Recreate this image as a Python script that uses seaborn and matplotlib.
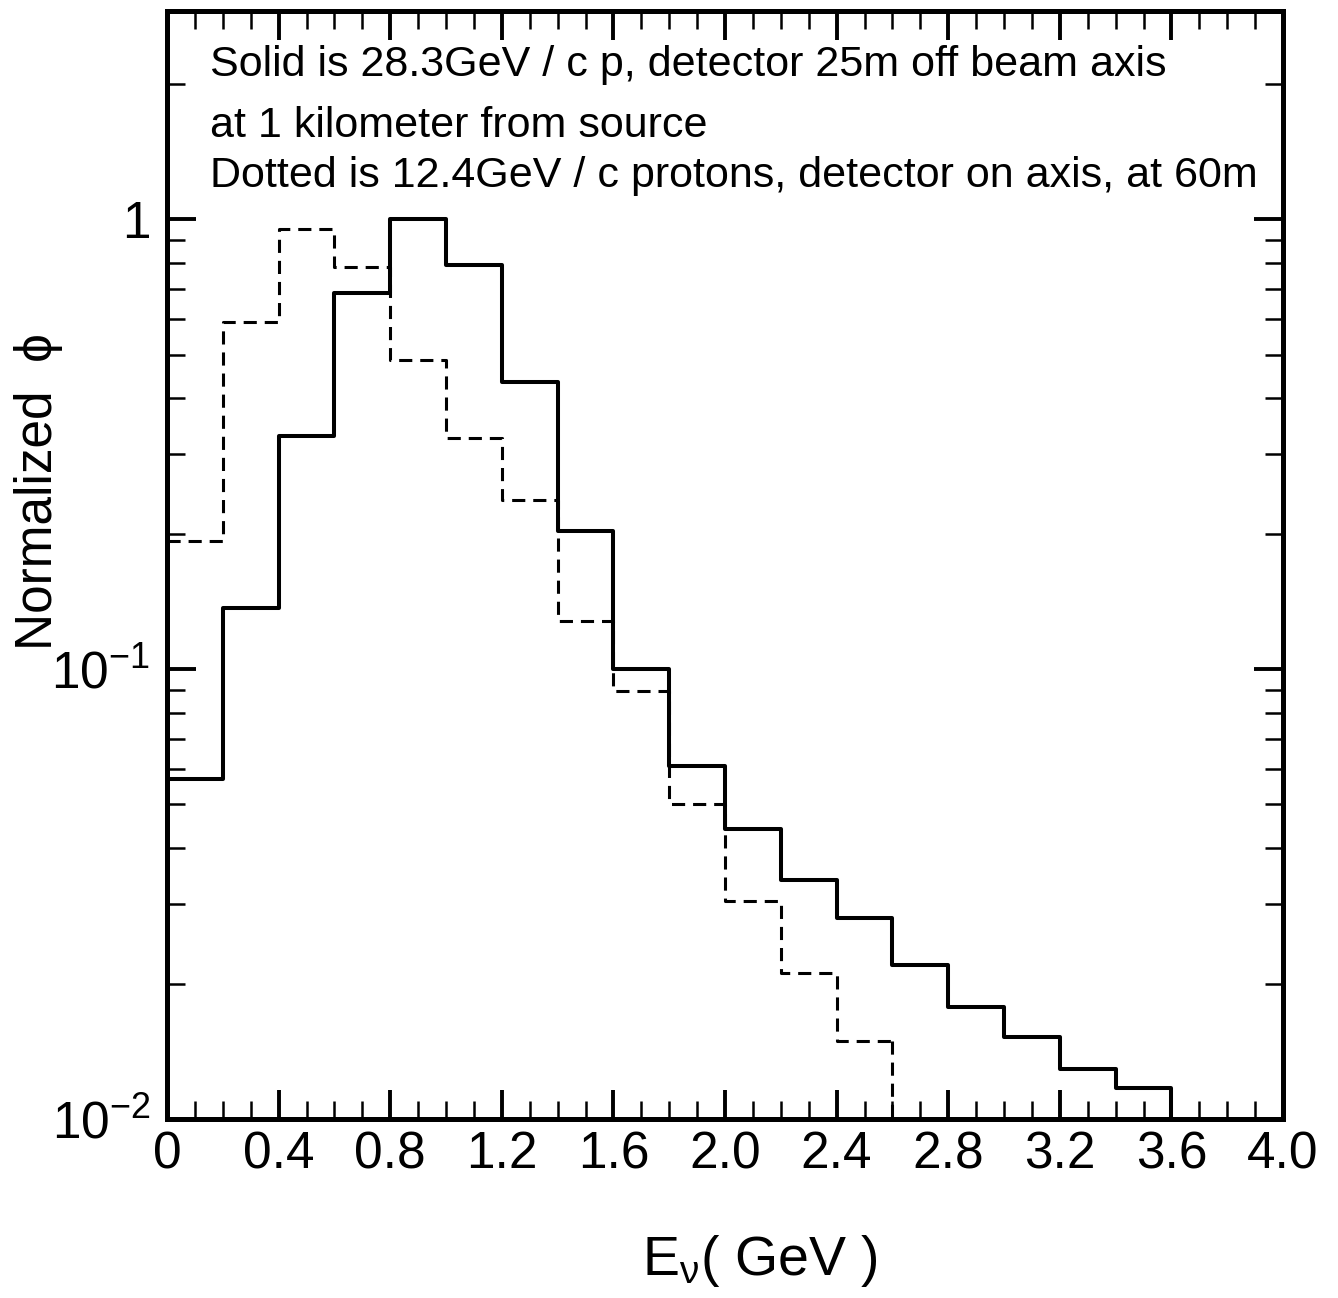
import numpy as np
import matplotlib
matplotlib.use("Agg")
import matplotlib.pyplot as plt
from matplotlib.ticker import MultipleLocator, LogLocator, NullFormatter
import seaborn as sns

# ---------------- data ----------------
solid_edges = [0.0, 0.2, 0.4, 0.6, 0.8, 1.0, 1.2, 1.4, 1.6, 1.8, 2.0,
               2.2, 2.4, 2.6, 2.8, 3.0, 3.2, 3.4, 3.6]
solid_values = [0.057, 0.137, 0.330, 0.685, 1.0, 0.79, 0.434, 0.203, 0.100,
                0.061, 0.0442, 0.034, 0.0279, 0.0220, 0.0177, 0.0152, 0.0129, 0.0117]

dotted_edges = [0.0, 0.2, 0.4, 0.6, 0.8, 1.0, 1.2, 1.4, 1.6, 1.8, 2.0,
                2.2, 2.4, 2.6]
dotted_values = [0.1925, 0.590, 0.950, 0.782, 0.486, 0.326, 0.2375, 0.128,
                 0.0892, 0.0502, 0.0305, 0.0211, 0.0149]

xtick_values = [0.0, 0.4, 0.8, 1.2, 1.6, 2.0, 2.4, 2.8, 3.2, 3.6, 4.0]
xtick_labels = ["0", "0.4", "0.8", "1.2", "1.6", "2.0", "2.4", "2.8", "3.2", "3.6", "4.0"]
ytick_values = [0.01, 0.1, 1.0]
ytick_labels = [r"$\mathregular{10^{-2}}$", r"$\mathregular{10^{-1}}$", "1"]

annotation_lines = [
    "Solid is 28.3GeV / c p, detector 25m off beam axis",
    "at 1 kilometer from source",
    "Dotted is 12.4GeV / c protons, detector on axis, at 60m",
]
xlabel = r"E$_{\mathregular{\nu}}$( GeV )"
ylabel = "Normalized  \u03d5"

# ---------------- style ----------------
sns.set_style("ticks")
plt.rcParams["font.family"] = ["Liberation Sans", "DejaVu Sans"]
plt.rcParams["mathtext.fontset"] = "custom"
plt.rcParams["mathtext.rm"] = "Liberation Sans"
plt.rcParams["mathtext.it"] = "Liberation Sans:italic"
plt.rcParams["mathtext.bf"] = "Liberation Sans:bold"
plt.rcParams["text.color"] = "black"
plt.rcParams["axes.labelcolor"] = "black"
plt.rcParams["xtick.color"] = "black"
plt.rcParams["ytick.color"] = "black"

fig = plt.figure(figsize=(13.38, 12.98), dpi=100)
ax = fig.add_axes([167 / 1338, 1 - 1119 / 1298, 1116 / 1338, 1108 / 1298])

YMIN, YMAX = 0.01, 2.9
DASH = (0, (4.3, 2.6))

def centers(edges):
    e = np.asarray(edges)
    return (e[:-1] + e[1:]) / 2

sns.histplot(x=centers(solid_edges), weights=solid_values, bins=solid_edges,
             element="step", fill=False, color="black", linewidth=2.9, ax=ax)
sns.histplot(x=centers(dotted_edges), weights=dotted_values, bins=dotted_edges,
             element="step", fill=False, color="black", linewidth=2.2,
             linestyle=DASH, ax=ax)

# closing drops of the histograms down to the axis floor
ax.plot([solid_edges[-1]] * 2, [solid_values[-1], YMIN], color="black",
        linewidth=2.9, solid_capstyle="butt")
ax.plot([dotted_edges[-1]] * 2, [dotted_values[-1], YMIN], color="black",
        linewidth=2.2, linestyle=DASH)

ax.set_yscale("log")
ax.set_xlim(0, 4.0)
ax.set_ylim(YMIN, YMAX)

ax.set_xticks(xtick_values, xtick_labels)
ax.xaxis.set_minor_locator(MultipleLocator(0.1))
ax.set_yticks(ytick_values, ytick_labels)
ax.yaxis.set_minor_locator(LogLocator(base=10, subs=np.arange(2, 10)))
ax.yaxis.set_minor_formatter(NullFormatter())

ax.tick_params(which="both", direction="in", top=True, right=True, colors="black")
ax.tick_params(which="major", length=21, width=2.8)
ax.tick_params(which="minor", length=13, width=1.8)
ax.tick_params(axis="x", which="major", labelsize=37, pad=8)
ax.tick_params(axis="y", which="major", labelsize=37, pad=12)

for s in ax.spines.values():
    s.set_linewidth(3.6)
    s.set_color("black")
    s.set_visible(True)

ax.set_xlabel(xlabel, fontsize=40, color="black")
ax.set_ylabel(ylabel, fontsize=37, color="black")
ax.xaxis.set_label_coords(0.531, -0.103)
ax.yaxis.set_label_coords(-0.093, 0.566)

baselines_px = [76, 137, 187]
for line, ypx in zip(annotation_lines, baselines_px):
    ax.text(43 / 1116, (1119 - ypx) / 1108, line, transform=ax.transAxes,
            fontsize=31, ha="left", va="baseline", color="black")

fig.savefig("out.png", dpi=100, facecolor="white")
